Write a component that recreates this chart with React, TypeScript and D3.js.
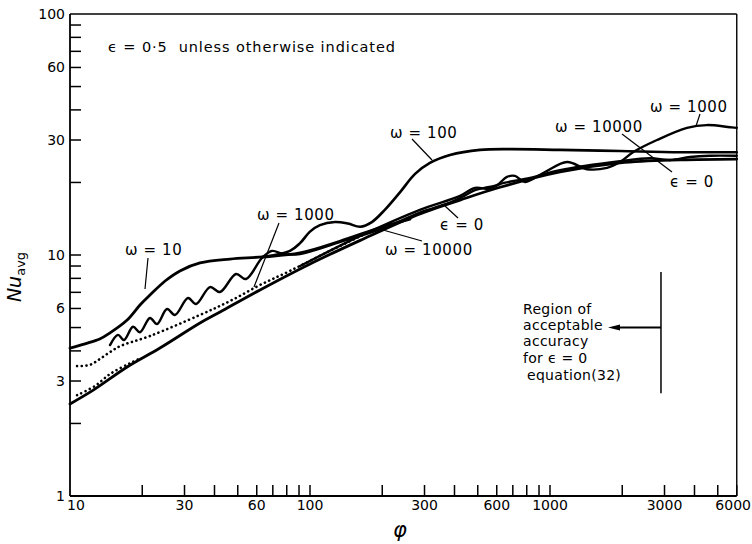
import React from 'react';
import * as d3 from 'd3';

// ---- axis ticks ----
const xTickValues = [20, 30, 40, 50, 60, 70, 80, 90, 100, 200, 300, 400, 500, 600, 700, 800, 900, 1000, 2000, 3000, 4000, 5000, 6000];
const xTickLabels = [10, 30, 60, 100, 300, 600, 1000, 3000, 6000];
const yTickValues = [2, 3, 4, 5, 6, 7, 8, 9, 10, 20, 30, 40, 50, 60, 70, 80, 90];
const yTickLabels = [1, 3, 6, 10, 30, 60, 100];

// ---- series (phi, Nu_avg) ----
const omega10Phi = [10, 11.55, 13.3, 14.68, 17.3, 19.57, 21.54, 24.9, 28.7, 34.8, 46.4, 63.7, 90.9, 133, 201, 261];
const omega10Nu = [4.11, 4.28, 4.48, 4.75, 5.37, 6.2, 6.82, 7.8, 8.59, 9.27, 9.62, 9.82, 10.2, 11.4, 13.1, 14.1];

const omega10000Phi = [10, 12.5, 17.3, 23.7, 34.8, 42.2, 61.9, 100, 162, 287, 422, 619, 1101, 1957, 3482, 6000];
const omega10000Nu = [2.41, 2.75, 3.43, 4.11, 5.22, 5.8, 7.16, 9.18, 11.5, 14.8, 16.9, 19.1, 22.1, 24.1, 24.8, 25.0];

const eps0Phi = [90.9, 162, 287, 422, 487, 562, 619, 826, 1101, 1957, 2611, 3162, 3830, 4642, 6000];
const eps0Nu = [9.0, 12.0, 15.4, 17.6, 19.0, 18.8, 19.7, 20.9, 22.5, 24.5, 25.2, 24.8, 25.5, 25.8, 25.8];

const omega100Phi = [63.7, 82.5, 90.9, 100, 110, 127, 144, 162, 181, 205, 237, 274, 316, 383, 511, 681, 1101, 1957, 3482, 6000];
const omega100Nu = [9.82, 10.4, 11.2, 12.5, 13.3, 13.7, 13.5, 13.1, 13.7, 15.4, 18.2, 21.7, 24.1, 26.0, 27.3, 27.5, 27.3, 27.0, 26.7, 26.7];

const omega1000Phi = [14.68, 15.85, 16.79, 18.3, 19.57, 21.54, 23.04, 25.36, 27.38, 31.02, 33.5, 38.31, 42.17, 49.17, 54.12, 63.1, 69.5, 77.2, 90.9, 133, 201, 287, 383, 430, 487, 552, 601, 662, 714, 787, 953, 1177, 1426, 1728, 1957, 2217, 2791, 3723, 4505, 5623, 6000];
const omega1000Nu = [4.23, 4.66, 4.44, 5.04, 4.78, 5.48, 5.17, 5.97, 5.64, 6.63, 6.26, 7.36, 7.02, 8.34, 7.95, 9.72, 10.4, 10.1, 10.1, 11.3, 12.9, 15.0, 16.5, 17.4, 18.6, 19.1, 19.5, 21.1, 21.3, 20.1, 22.1, 24.3, 22.7, 23.0, 24.3, 26.7, 30.0, 33.7, 34.6, 33.9, 33.7];

const dottedAPhi = [10.7, 12.1, 13.3, 14.7, 16.2, 21.5, 34.8, 46.4, 61.9, 82.5, 121, 178];
const dottedANu = [3.46, 3.5, 3.7, 3.96, 4.19, 4.61, 5.64, 6.44, 7.51, 8.59, 10.4, 12.5];

const dottedBPhi = [10.7, 12.7, 14.7, 17.8, 19.6];
const dottedBNu = [2.62, 2.86, 3.21, 3.56, 3.72];

// region of acceptable accuracy boundary
const regionPhi = [2900];
const regionNu = [2.67, 8.5];

const FONT = '"DejaVu Sans", sans-serif';

export default function App() {
  const W = 752;
  const H = 544;
  const x = d3.scaleLog().domain([10, 6000]).range([70, 70 + 240 * Math.log10(600)]);
  const y = d3.scaleLog().domain([1, 100]).range([14 + 241 * 2, 14]);
  const x0 = x(10);
  const x1 = x(6000);
  const y0 = y(1);
  const y1 = y(100);

  const path = (phi: number[], nu: number[]) =>
    d3
      .line<number>()
      .x((_, i) => x(phi[i]))
      .y((_, i) => y(nu[i]))
      .curve(d3.curveCatmullRom.alpha(0.5))(phi) as string;

  const tick = 11;
  const bx = x(regionPhi[0]);
  const arrowY = y(5.0);

  const label = { fontFamily: FONT, fontSize: 15, letterSpacing: 0.6, fill: '#000' } as const;
  const region = { fontFamily: FONT, fontSize: 14, letterSpacing: 0.3, fill: '#000' } as const;

  return (
    <svg
      width={W}
      height={H}
      viewBox={`0 0 ${W} ${H}`}
      style={{ position: 'absolute', left: 0, top: 0, background: '#fff' }}
    >
      <rect x={0} y={0} width={W} height={H} fill="#fff" />
      {/* frame */}
      <g stroke="#000" strokeWidth={1.8} fill="none">
        <line x1={x0} y1={y0} x2={x1} y2={y0} />
        <line x1={x0} y1={y0} x2={x0} y2={y1} />
        <line x1={x0} y1={y1} x2={x1} y2={y1} strokeWidth={1.4} />
        <line x1={x1} y1={y1} x2={x1} y2={y0} strokeWidth={1.4} />
      </g>
      {/* ticks */}
      <g stroke="#000" strokeWidth={1.5}>
        {xTickValues.map((v) => (
          <line key={'xt' + v} x1={x(v)} x2={x(v)} y1={y0} y2={y0 - tick} />
        ))}
        {yTickValues.map((v) => (
          <line key={'yt' + v} x1={x0} x2={x0 + tick} y1={y(v)} y2={y(v)} />
        ))}
      </g>
      <g fontFamily={FONT} fontSize={14} fill="#000">
        {xTickLabels.map((v, i) => {
          const last = i === xTickLabels.length - 1;
          return (
            <text
              key={'xl' + v}
              x={i === 0 ? x(v) - 3 : last ? 751 : x(v)}
              y={y0 + 14}
              textAnchor={i === 0 ? 'start' : last ? 'end' : 'middle'}
            >
              {v}
            </text>
          );
        })}
        {yTickLabels.map((v) => (
          <text key={'yl' + v} x={x0 - 5} y={y(v) + 5} textAnchor="end">
            {v}
          </text>
        ))}
      </g>
      {/* axis titles */}
      <text x={400} y={537} fontFamily={FONT} fontSize={21} fontStyle="italic" textAnchor="middle">
        φ
      </text>
      <text transform="translate(21,277) rotate(-90)" fontFamily={FONT} textAnchor="middle" fill="#000">
        <tspan fontSize={19} fontStyle="italic">Nu</tspan>
        <tspan fontSize={13} dy={4}>avg</tspan>
      </text>

      {/* curves */}
      <g fill="none" stroke="#000" strokeLinejoin="round" strokeLinecap="round">
        <path d={path(omega10000Phi, omega10000Nu)} strokeWidth={2.8} />
        <path d={path(eps0Phi, eps0Nu)} strokeWidth={2.4} />
        <path d={path(omega10Phi, omega10Nu)} strokeWidth={2.8} />
        <path d={path(omega100Phi, omega100Nu)} strokeWidth={2.6} />
        <path d={path(omega1000Phi, omega1000Nu)} strokeWidth={2.4} />
        <path d={path(dottedAPhi, dottedANu)} strokeWidth={2.6} strokeDasharray="0.1 4.6" />
        <path d={path(dottedBPhi, dottedBNu)} strokeWidth={2.6} strokeDasharray="0.1 4.6" />
      </g>

      {/* region of acceptable accuracy */}
      <g stroke="#000" fill="none">
        <line x1={bx} x2={bx} y1={y(regionNu[0])} y2={y(regionNu[1])} strokeWidth={1.5} />
        <line x1={bx} x2={614} y1={arrowY} y2={arrowY} strokeWidth={2} />
      </g>
      <path d={`M608,${arrowY} L620,${arrowY - 3} L620,${arrowY + 3} Z`} fill="#000" />
      <g {...region}>
        <text x={523} y={314}>Region of</text>
        <text x={523} y={330}>acceptable</text>
        <text x={523} y={346}>accuracy</text>
        <text x={523} y={363}>for ϵ = 0</text>
        <text x={527} y={380}>equation(32)</text>
      </g>

      {/* annotations */}
      <g {...label}>
        <text x={108} y={52} fontSize={14.5} letterSpacing={0.9} xmlSpace="preserve">ϵ = 0·5  unless otherwise indicated</text>
        <text x={125} y={255}>ω = 10</text>
        <text x={257} y={220}>ω = 1000</text>
        <text x={390} y={138}>ω = 100</text>
        <text x={440} y={230}>ϵ = 0</text>
        <text x={385} y={255}>ω = 10000</text>
        <text x={650} y={112}>ω = 1000</text>
        <text x={555} y={132}>ω = 10000</text>
        <text x={670} y={187}>ϵ = 0</text>
      </g>
      <g stroke="#000" strokeWidth={1.2}>
        <line x1={148} y1={258} x2={145} y2={289} />
        <line x1={279} y1={223} x2={254} y2={287} />
        <line x1={412} y1={139} x2={432} y2={160} />
        <line x1={445} y1={206} x2={458} y2={218} />
        <line x1={383} y1={230} x2={422} y2={241} />
        <line x1={700} y1={114} x2={696} y2={126} />
        <line x1={622} y1={134} x2={672} y2={172} />
      </g>
    </svg>
  );
}
